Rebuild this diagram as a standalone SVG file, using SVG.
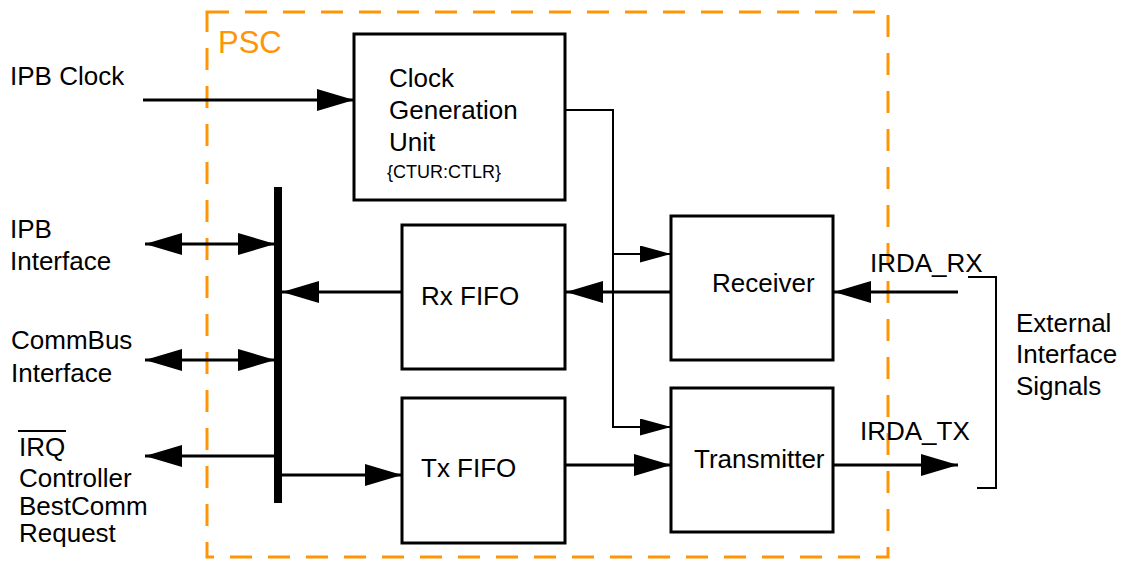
<svg xmlns="http://www.w3.org/2000/svg" width="1122" height="561" viewBox="0 0 1122 561">
<style>
text{font-family:"Liberation Sans",Arial,sans-serif;font-size:26px;fill:#000}
.box{fill:#fff;stroke:#000;stroke-width:3}
.ln{fill:none;stroke:#000;stroke-width:3}
.thin{fill:none;stroke:#000;stroke-width:2}
.psc{fill:none;stroke:#FF9505;stroke-width:3;stroke-dasharray:22 16}
</style>
<defs>
<marker id="ah" markerUnits="userSpaceOnUse" markerWidth="38" markerHeight="22" refX="37" refY="11" orient="auto-start-reverse"><path d="M0,0 L37,11 L0,22 z" fill="#000"/></marker>
<marker id="as" markerUnits="userSpaceOnUse" markerWidth="32" markerHeight="18" refX="31" refY="8.5" orient="auto"><path d="M0,0 L31,8.5 L0,17 z" fill="#000"/></marker>
</defs>
<rect class="psc" x="207" y="12" width="681" height="545"/>
<text x="218" y="53" style="font-size:31px;fill:#FF9505">PSC</text>
<g id="labels">
<text x="10" y="85">IPB Clock</text>
<text x="10" y="238">IPB</text>
<text x="10" y="270">Interface</text>
<text x="11" y="349">CommBus</text>
<text x="11" y="382">Interface</text>
<text x="19" y="456">IRQ</text>
<line x1="18" y1="431" x2="66" y2="431" stroke="#000" stroke-width="2"/>
<text x="19" y="487">Controller</text>
<text x="19" y="515">BestComm</text>
<text x="19" y="542">Request</text>
<text x="870" y="272">IRDA_RX</text>
<text x="860" y="440">IRDA_TX</text>
<text x="1016" y="332">External</text>
<text x="1016" y="363">Interface</text>
<text x="1016" y="395">Signals</text>
</g>
<g id="clockgen">
<rect class="box" x="354" y="34" width="211" height="166"/>
<text x="389" y="87">Clock</text>
<text x="389" y="119">Generation</text>
<text x="389" y="151">Unit</text>
<text x="387" y="178" style="font-size:18px">{CTUR:CTLR}</text>
</g>
<g id="bus"><rect x="274" y="187" width="8" height="316" fill="#000"/></g>
<g id="rxfifo">
<rect class="box" x="402" y="225" width="163" height="144"/>
<text x="421" y="305">Rx FIFO</text>
</g>
<g id="txfifo">
<rect class="box" x="402" y="398" width="163" height="145"/>
<text x="421" y="477">Tx FIFO</text>
</g>
<g id="receiver">
<rect class="box" x="671" y="216" width="162" height="144"/>
<text x="712" y="292">Receiver</text>
</g>
<g id="transmitter">
<rect class="box" x="671" y="388" width="162" height="144"/>
<text x="694" y="468">Transmitter</text>
</g>
<g id="connectors">
<path class="ln" d="M143,100 H354" marker-end="url(#ah)"/>
<path class="ln" d="M145,244 H275" marker-start="url(#ah)" marker-end="url(#ah)"/>
<path class="ln" d="M145,360 H275" marker-start="url(#ah)" marker-end="url(#ah)"/>
<path class="ln" d="M274,456 H145" marker-end="url(#ah)"/>
<path class="ln" d="M282,475 H402" marker-end="url(#ah)"/>
<path class="ln" d="M402,292 H282" marker-end="url(#ah)"/>
<path class="thin" d="M565,110 H613 V427 H671" marker-end="url(#as)"/>
<path class="thin" d="M613,254 H671" marker-end="url(#as)"/>
<path class="ln" d="M671,292 H566" marker-end="url(#ah)"/>
<path class="ln" d="M958,292 H834" marker-end="url(#ah)"/>
<path class="ln" d="M566,465 H671" marker-end="url(#ah)"/>
<path class="ln" d="M834,465 H958" marker-end="url(#ah)"/>
<path class="thin" d="M968,277 H996 V488 H977"/>
</g>
</svg>
